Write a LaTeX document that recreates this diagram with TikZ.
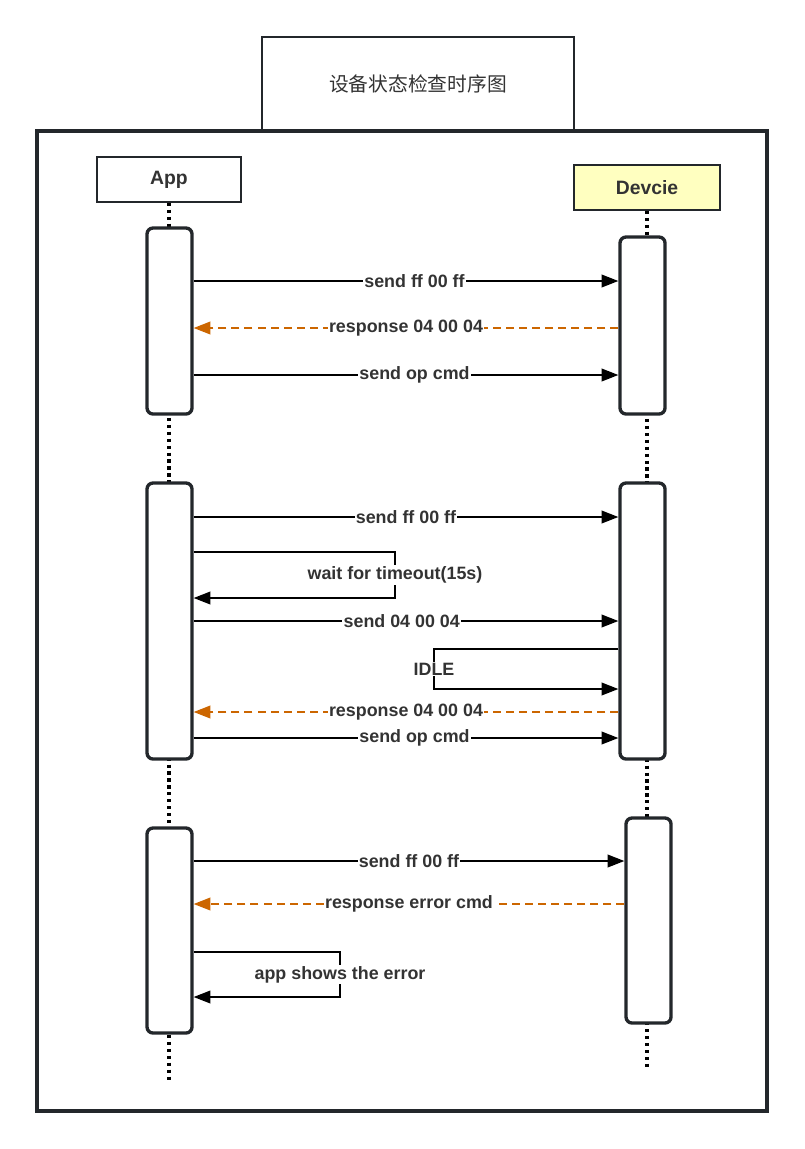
\documentclass[tikz,border=0pt]{standalone}
\usepackage{fontspec}
\setmainfont{Liberation Sans}
\newfontfamily\cjk{Noto Sans CJK SC}
\usetikzlibrary{arrows.meta,calc}
\definecolor{txt}{HTML}{333333}
\definecolor{strk}{HTML}{23272B}
\definecolor{resp}{HTML}{CC6600}
\definecolor{devfill}{HTML}{FFFFC0}
\begin{document}
\begin{tikzpicture}[x=0.75pt,y=-0.75pt,
  actor/.style={draw=strk,line width=1.4pt,minimum width=108pt,minimum height=33.75pt,font=\bfseries\fontsize{14.5}{16}\selectfont,text=txt,inner sep=0pt},
  act/.style={draw=strk,fill=white,line width=2.5pt,rounded corners=4.5pt,minimum width=33.75pt,inner sep=0pt},
  life/.style={line width=2.5pt,dash pattern=on 2.4pt off 2.8pt,black},
  msg/.style={line width=1.15pt,black,-{Triangle[length=12.5pt,width=9.5pt]}},
  rsp/.style={line width=1.15pt,resp,dash pattern=on 6pt off 3.8pt,-{Triangle[length=12.5pt,width=9.5pt,fill=resp]}},
  lbl/.style={fill=white,inner sep=1pt,text=txt,font=\bfseries\fontsize{13.4}{15}\selectfont}]
\useasboundingbox (0,0) rectangle (804,1149);
% title and frame
\node[draw=strk,line width=1.6pt,minimum width=234pt,minimum height=70.5pt,inner sep=0pt,text=txt,font=\cjk\fontsize{14.8}{16}\selectfont] (title) at (418,84) {设备状态检查时序图};
\node[draw=strk,line width=2.6pt,minimum width=547.5pt,minimum height=735pt,inner sep=0pt] (frame) at (402,621) {};
% actors
\node[actor] (app) at (169,179.5) {App};
\node[actor,fill=devfill,minimum width=109.5pt] (dev) at (647,187.5) {Devcie};
\coordinate (append) at (169,1083);
\coordinate (devend) at (647,1068);
\draw[life] (app.south) -- (append);
\draw[life] (dev.south) -- (devend);
% activations
\node[act,minimum height=139.5pt] (a1) at (169.5,321) {};
\node[act,minimum height=207pt] (a2) at (169.5,621) {};
\node[act,minimum height=153.75pt] (a3) at (169.5,930.5) {};
\node[act,minimum height=132.75pt] (d1) at (642.5,325.5) {};
\node[act,minimum height=207pt] (d2) at (642.5,621) {};
\node[act,minimum height=153.75pt] (d3) at (648.5,920.5) {};
% block 1
\draw[msg] (a1.east |- 0,281) -- node[lbl,pos=0.52]{send ff 00 ff} (d1.west |- 0,281);
\draw[rsp] (d1.west |- 0,328) -- node[lbl,pos=0.5]{response 04 00 04} (a1.east |- 0,328);
\draw[msg] (a1.east |- 0,375) -- node[lbl,pos=0.52]{send op cmd} (d1.west |- 0,375);
% block 2
\draw[msg] (a2.east |- 0,517) -- node[lbl,pos=0.5]{send ff 00 ff} (d2.west |- 0,517);
\draw[msg] (a2.east |- 0,552) -- (395,552) -- node[lbl]{wait for timeout(15s)} (395,598) -- (a2.east |- 0,598);
\draw[msg] (a2.east |- 0,621) -- node[lbl,pos=0.49]{send 04 00 04} (d2.west |- 0,621);
\draw[msg] (d2.west |- 0,649) -- (434,649) -- node[lbl]{IDLE} (434,689) -- (d2.west |- 0,689);
\draw[rsp] (d2.west |- 0,712) -- node[lbl,pos=0.5]{response 04 00 04} (a2.east |- 0,712);
\draw[msg] (a2.east |- 0,738) -- node[lbl,pos=0.52]{send op cmd} (d2.west |- 0,738);
% block 3
\draw[msg] (a3.east |- 0,861) -- node[lbl,pos=0.5]{send ff 00 ff} (d3.west |- 0,861);
\draw[rsp] (d3.west |- 0,904) -- node[lbl,pos=0.5]{response error cmd} (a3.east |- 0,904);
\draw[msg] (a3.east |- 0,952) -- (340,952) -- node[lbl]{app shows the error} (340,997) -- (a3.east |- 0,997);
\end{tikzpicture}
\end{document}
